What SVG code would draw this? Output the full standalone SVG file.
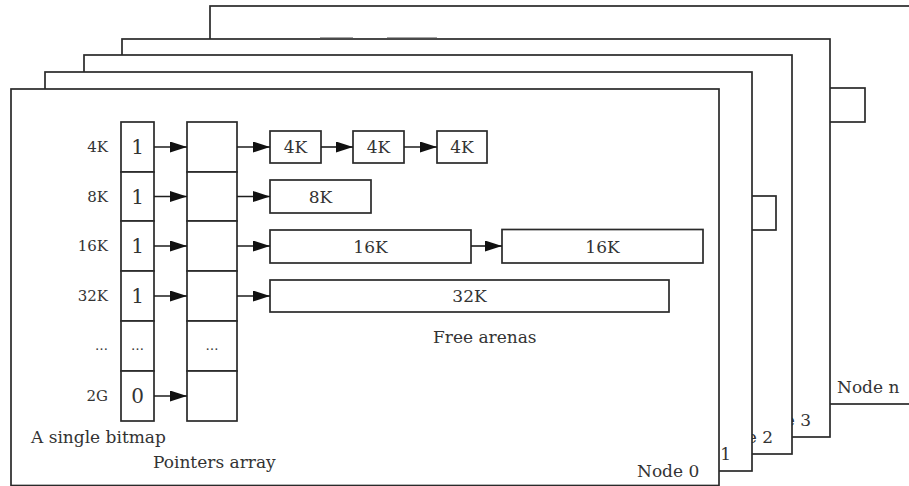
<svg xmlns="http://www.w3.org/2000/svg" width="909" height="486" viewBox="0 0 909 486">
  <style>
    .frame { fill: #ffffff; stroke: #2a2a2a; stroke-width: 1.7; }
    .cell { fill: #ffffff; stroke: #2a2a2a; stroke-width: 1.7; }
    .arena { fill: #ffffff; stroke: #2a2a2a; stroke-width: 1.7; }
    .txt { font-family: "DejaVu Serif", "Liberation Serif", serif; fill: #333333; }
    .lbl { font-size: 15px; text-anchor: end; }
    .bit { font-size: 20px; text-anchor: middle; }
    .dots { font-size: 13px; text-anchor: middle; }
    .size { font-size: 17px; text-anchor: middle; }
    .cap { font-size: 17px; }
    .link { stroke: #1e1e1e; stroke-width: 1.6; fill: none; marker-end: url(#head); }
  </style>
  <defs>
    <marker id="head" markerUnits="userSpaceOnUse" viewBox="0 0 17 11" refX="17" refY="5.5" markerWidth="17" markerHeight="11" orient="auto">
      <path d="M0,0 L17,5.5 L0,11 Z" fill="#111111"/>
    </marker>
  </defs>
  <rect width="909" height="486" fill="#ffffff"/>

  <!-- stacked node panels, back to front -->
  <g id="node-n">
    <rect class="frame" x="210" y="6" width="720" height="398"/>
    <rect class="arena" x="800" y="88" width="65" height="34"/>
    <text class="txt cap" x="837" y="393">Node n</text>
  </g>

  <g id="node-3">
    <rect class="frame" x="122" y="39" width="708" height="398"/>
    <line x1="320" y1="38.6" x2="353" y2="38.6" stroke="#4a4a4a" stroke-width="2.2"/>
    <line x1="387" y1="38.6" x2="437" y2="38.6" stroke="#4a4a4a" stroke-width="2.2"/>
    <text class="txt cap" x="811" y="426" text-anchor="end">Node 3</text>
  </g>

  <g id="node-2">
    <rect class="frame" x="84" y="55" width="708" height="399"/>
    <rect class="arena" x="700" y="196" width="76" height="34"/>
    <text class="txt cap" x="773" y="443" text-anchor="end">Node 2</text>
  </g>

  <g id="node-1">
    <rect class="frame" x="45" y="72" width="707" height="399"/>
    <text class="txt cap" x="731" y="460" text-anchor="end">Node 1</text>
  </g>

  <g id="node-0">
    <rect class="frame" x="11" y="89" width="708" height="396.5"/>
    <text class="txt cap" x="637" y="477">Node 0</text>
  </g>

  <!-- size-class labels -->
  <g id="size-labels" class="txt lbl">
    <text x="108" y="152">4K</text>
    <text x="108" y="202">8K</text>
    <text x="108" y="251">16K</text>
    <text x="108" y="301">32K</text>
    <text x="108" y="350" style="font-size:13px">…</text>
    <text x="108" y="401">2G</text>
  </g>

  <!-- bitmap column -->
  <g id="bitmap">
    <rect class="cell" x="121" y="122" width="33" height="50"/>
    <rect class="cell" x="121" y="172" width="33" height="49"/>
    <rect class="cell" x="121" y="221" width="33" height="50"/>
    <rect class="cell" x="121" y="271" width="33" height="50"/>
    <rect class="cell" x="121" y="321" width="33" height="50"/>
    <rect class="cell" x="121" y="371" width="33" height="50"/>
    <text class="txt bit" x="137.5" y="154">1</text>
    <text class="txt bit" x="137.5" y="204">1</text>
    <text class="txt bit" x="137.5" y="253">1</text>
    <text class="txt bit" x="137.5" y="303">1</text>
    <text class="txt dots" x="137.5" y="350">…</text>
    <text class="txt bit" x="137.5" y="403">0</text>
    <text class="txt cap" x="31" y="443">A single bitmap</text>
  </g>

  <!-- pointers column -->
  <g id="pointers">
    <rect class="cell" x="187" y="122" width="50" height="50"/>
    <rect class="cell" x="187" y="172" width="50" height="49"/>
    <rect class="cell" x="187" y="221" width="50" height="50"/>
    <rect class="cell" x="187" y="271" width="50" height="50"/>
    <rect class="cell" x="187" y="321" width="50" height="50"/>
    <rect class="cell" x="187" y="371" width="50" height="50"/>
    <text class="txt dots" x="212" y="350">…</text>
    <text class="txt cap" x="153" y="468">Pointers array</text>
  </g>

  <!-- free arena blocks -->
  <g id="arena-4k-a">
    <rect class="arena" x="270" y="131" width="51" height="32"/>
    <text class="txt size" x="295.5" y="153">4K</text>
  </g>
  <g id="arena-4k-b">
    <rect class="arena" x="353" y="131" width="51" height="32"/>
    <text class="txt size" x="378.5" y="153">4K</text>
  </g>
  <g id="arena-4k-c">
    <rect class="arena" x="437" y="131" width="50" height="32"/>
    <text class="txt size" x="462" y="153">4K</text>
  </g>
  <g id="arena-8k">
    <rect class="arena" x="270" y="180" width="101" height="33"/>
    <text class="txt size" x="320.5" y="203">8K</text>
  </g>
  <g id="arena-16k-a">
    <rect class="arena" x="270" y="230" width="201" height="33"/>
    <text class="txt size" x="370.5" y="253">16K</text>
  </g>
  <g id="arena-16k-b">
    <rect class="arena" x="502" y="229.5" width="201" height="33.5"/>
    <text class="txt size" x="602.5" y="253">16K</text>
  </g>
  <g id="arena-32k">
    <rect class="arena" x="270" y="280" width="399" height="32"/>
    <text class="txt size" x="469.5" y="302">32K</text>
  </g>
  <g id="free-arenas-label">
    <text class="txt cap" x="433" y="343">Free arenas</text>
  </g>

  <!-- connectors -->
  <g id="connectors">
    <line class="link" x1="154" y1="147" x2="187" y2="147"/>
    <line class="link" x1="237" y1="147" x2="270" y2="147"/>
    <line class="link" x1="321" y1="147" x2="353" y2="147"/>
    <line class="link" x1="404" y1="147" x2="437" y2="147"/>
    <line class="link" x1="154" y1="196.5" x2="187" y2="196.5"/>
    <line class="link" x1="237" y1="196.5" x2="270" y2="196.5"/>
    <line class="link" x1="154" y1="246" x2="187" y2="246"/>
    <line class="link" x1="237" y1="246" x2="270" y2="246"/>
    <line class="link" x1="471" y1="246" x2="502" y2="246"/>
    <line class="link" x1="154" y1="296" x2="187" y2="296"/>
    <line class="link" x1="237" y1="296" x2="270" y2="296"/>
    <line class="link" x1="154" y1="396" x2="187" y2="396"/>
  </g>
</svg>
